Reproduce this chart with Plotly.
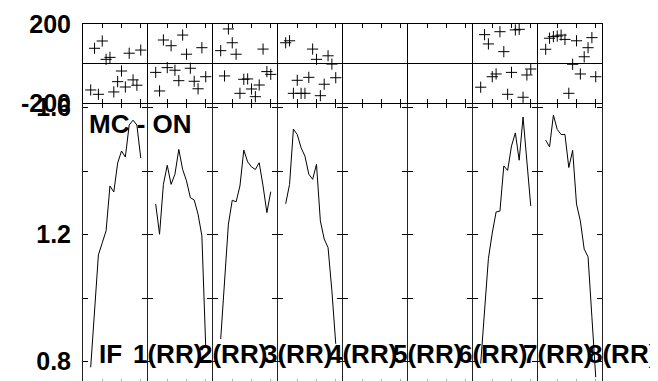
import plotly.graph_objects as go

# ---------------- data ----------------
channels = [8, 12, 16, 20, 24, 28, 32, 36, 40, 44, 48, 52, 56, 60]

phase_if1 = [-134, 77, -156, 114, 21, 31, -144, -92, -38, -119, 52, -83, -110, 68]
phase_if2 = [-45, -139, 119, -21, 90, -34, -87, 144, 47, -24, -90, -128, 80, -67]
phase_if3 = [65, -63, 175, 105, 47, -151, -80, -78, -129, -168, -109, 73, -41, -55]
phase_if4 = [105, 115, -151, -85, -151, -151, -70, 73, 21, -163, -105, 39, -3, -72]
phase_if5 = []
phase_if6 = []
phase_if7 = [-120, 146, 99, -67, -53, 161, 60, -156, -45, 170, 173, -171, -58, -28]
phase_if8 = [72, 128, 136, 139, 144, 122, -151, -4, 115, -53, 34, 80, 131, -67]

amp_if1 = [0.782, 0.960, 1.136, 1.174, 1.212, 1.353, 1.334, 1.425, 1.463, 1.444, 1.545, 1.560, 1.545, 1.441]
amp_if2 = [1.296, 1.201, 1.358, 1.418, 1.358, 1.390, 1.468, 1.405, 1.369, 1.316, 1.309, 1.264, 1.196, 0.845]
amp_if3 = [0.871, 1.055, 1.233, 1.308, 1.303, 1.353, 1.466, 1.429, 1.413, 1.405, 1.426, 1.353, 1.269, 1.335]
amp_if4 = [1.297, 1.358, 1.532, 1.515, 1.473, 1.447, 1.390, 1.374, 1.421, 1.243, 1.186, 1.159, 1.023, 0.856]
amp_if5 = []
amp_if6 = []
amp_if7 = [0.794, 0.960, 1.124, 1.205, 1.271, 1.274, 1.416, 1.402, 1.479, 1.520, 1.434, 1.570, 1.442, 1.290]
amp_if8 = [1.497, 1.476, 1.576, 1.531, 1.515, 1.515, 1.411, 1.465, 1.296, 1.243, 1.154, 1.130, 0.941, 0.751]

if_labels = ["1(RR)", "2(RR)", "3(RR)", "4(RR)", "5(RR)", "6(RR)", "7(RR)", "8(RR)"]
phase_ticks = [-200, 200]
phase_ticktext = ["-200", "200"]
amp_ticks = [0.8, 1.0, 1.2, 1.4, 1.6]
amp_ticktext = ["0.8", "", "1.2", "", "1.6"]
title_text = "MC - ON"

phases = [phase_if1, phase_if2, phase_if3, phase_if4, phase_if5, phase_if6, phase_if7, phase_if8]
amps = [amp_if1, amp_if2, amp_if3, amp_if4, amp_if5, amp_if6, amp_if7, amp_if8]

# ---------------- layout geometry ----------------
W, H = 658, 381
PAGE = 8                      # default body margin of the html page
SL, SR, ST, SB = 83, 603, 24, 381   # wanted plot-area edges on screen
L = SL - PAGE
T = ST - PAGE
R = W - (SR - PAGE)
B = H - (SB - PAGE)
plot_w = W - L - R
plot_h = H - T - B
ncol = 8
col_px = plot_w / ncol
top_px = 79
xrange_ = [0, 66.5]
phase_range = [-200, 200]
amp_range = [0.739, 1.611]

FONT = "Liberation Sans"
bold = dict(family=FONT, size=25, color="black", weight="bold")
labfont = dict(family=FONT, size=26, color="black", weight="bold")

fig = go.Figure()
layout = {}
top_dom = [1 - top_px / plot_h, 1]
bot_dom = [0, 1 - (top_px + 1) / plot_h]

for c in range(ncol):
    dom = [c * col_px / plot_w, (c * col_px + col_px - 1) / plot_w]
    it, ib, io = c + 1, c + 9, c + 17
    fig.add_trace(go.Scatter(
        x=channels[:len(phases[c])], y=phases[c], mode="markers",
        xaxis=f"x{it}", yaxis=f"y{it}",
        marker=dict(symbol="cross-thin", size=8, color="black",
                    line=dict(width=1, color="black")),
        showlegend=False, hoverinfo="skip"))
    fig.add_trace(go.Scatter(
        x=channels[:len(amps[c])], y=amps[c], mode="lines",
        xaxis=f"x{ib}", yaxis=f"y{ib}",
        line=dict(color="black", width=1),
        showlegend=False, hoverinfo="skip"))
    fig.add_trace(go.Scatter(x=[], y=[], xaxis=f"x{io}", yaxis=f"y{ib}",
                             showlegend=False, hoverinfo="skip"))

    layout[f"xaxis{it}"] = dict(
        domain=dom, anchor=f"y{it}", range=xrange_, tickmode="linear", tick0=0, dtick=20,
        ticks="inside", ticklen=4, tickwidth=1, tickcolor="black", mirror="ticks",
        showline=True, linecolor="black", linewidth=1, showticklabels=False,
        showgrid=False, zeroline=False, automargin=False)
    layout[f"yaxis{it}"] = dict(
        domain=top_dom, anchor=f"x{it}", range=phase_range,
        tickvals=phase_ticks, ticktext=phase_ticktext, showticklabels=(c == 0),
        ticks="", showline=True, mirror=True, linecolor="black", linewidth=1,
        showgrid=False, zeroline=True, zerolinecolor="black", zerolinewidth=1,
        tickfont=bold, ticklabelstandoff=6, automargin=False)
    layout[f"xaxis{ib}"] = dict(
        domain=dom, anchor=f"y{ib}", range=xrange_, side="top", tickmode="linear",
        tick0=0, dtick=20, ticks="inside", ticklen=4, tickwidth=1, tickcolor="black",
        showline=True, linecolor="black", linewidth=1, mirror=False,
        showticklabels=False, showgrid=False, zeroline=False, automargin=False)
    layout[f"xaxis{io}"] = dict(
        overlaying=f"x{ib}", anchor=f"y{ib}", range=xrange_, side="bottom",
        tickmode="linear", tick0=0, dtick=20, ticks="inside", ticklen=2,
        tickcolor="#aaaaaa", showline=False, showticklabels=False,
        showgrid=False, zeroline=False, automargin=False)
    layout[f"yaxis{ib}"] = dict(
        domain=bot_dom, anchor=f"x{ib}", range=amp_range,
        tickvals=amp_ticks, ticktext=amp_ticktext, showticklabels=(c == 0),
        ticks="inside", ticklen=5, tickwidth=1, tickcolor="black", mirror="ticks",
        showline=True, linecolor="#222222", linewidth=1,
        showgrid=False, zeroline=False, tickfont=bold, ticklabelstandoff=6,
        automargin=False)


def px_x(px):
    return (px - PAGE - L) / plot_w


def px_y(py):
    return (H - B - (py - PAGE)) / plot_h


annotations = [dict(text=title_text, xref="paper", yref="paper", x=px_x(87), y=px_y(124),
                    xanchor="left", yanchor="middle", showarrow=False, font=labfont)]
annotations.append(dict(text="IF", xref="paper", yref="paper", x=px_x(124), y=px_y(354),
                        xanchor="right", yanchor="middle", showarrow=False, font=labfont))
for c, lab in enumerate(if_labels):
    annotations.append(dict(text=lab, xref="paper", yref="paper",
                            x=px_x(SL + c * col_px + 48), y=px_y(354),
                            xanchor="left", yanchor="middle", showarrow=False, font=labfont))

fig.update_layout(
    template="none",
    width=W, height=H, margin=dict(l=L, r=R, t=T, b=B, autoexpand=False),
    paper_bgcolor="white", plot_bgcolor="white",
    annotations=annotations, **layout)

fig.write_html("out.html")
